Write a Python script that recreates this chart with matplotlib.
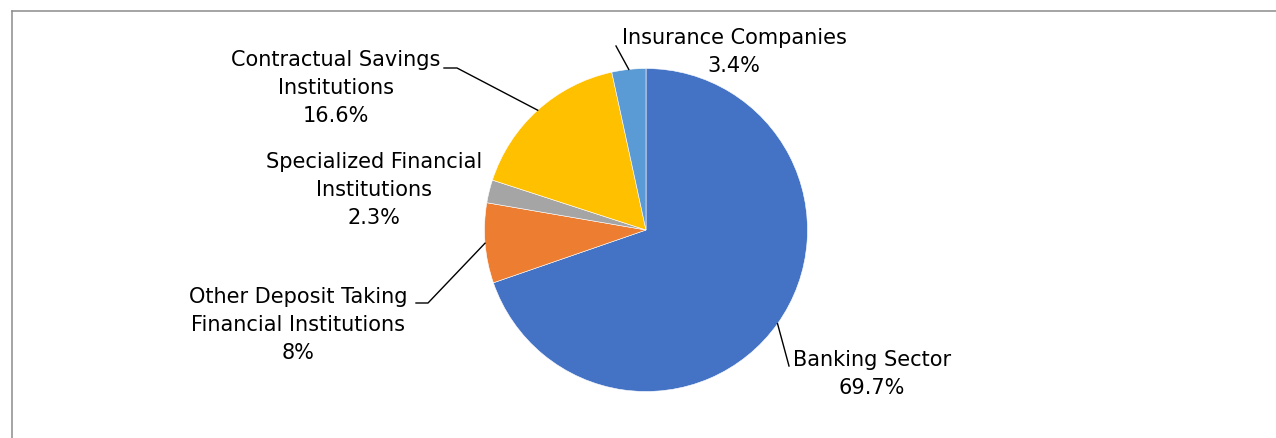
import numpy as np
import matplotlib.pyplot as plt
from matplotlib.lines import Line2D

# data
sectors = ['Banking Sector', 'Other Deposit Taking\nFinancial Institutions',
           'Specialized Financial\nInstitutions', 'Contractual Savings\nInstitutions',
           'Insurance Companies']
shares = [69.7, 8.0, 2.3, 16.6, 3.4]
share_labels = ['69.7%', '8%', '2.3%', '16.6%', '3.4%']
colors = ['#4472C4', '#ED7D31', '#A5A5A5', '#FFC000', '#5B9BD5']

W, H = 1276, 438
fig = plt.figure(figsize=(W / 100, H / 100), dpi=100)
ax = fig.add_axes([0, 0, 1, 1])

cx, cy, r = 646, H - 230, 161.5
wedges, _ = ax.pie(shares, colors=colors, startangle=90, counterclock=False,
                   center=(cx, cy), radius=r,
                   wedgeprops=dict(edgecolor='white', linewidth=0.4))
ax.set_xlim(0, W)
ax.set_ylim(0, H)
ax.set_aspect('equal')
ax.axis('off')

# outer frame (only top and left edge visible)
fig.add_artist(Line2D([12, W + 5], [H - 11, H - 11], transform=None,
                      color='#8c8c8c', lw=1.1))
fig.add_artist(Line2D([12, 12], [-5, H - 11], transform=None,
                      color='#8c8c8c', lw=1.1))

# label layout: text centre, leader line points (after wedge edge)
layout = {
    0: dict(xy=(872, H - 374), line=[(789, H - 366)]),
    1: dict(xy=(298, H - 325), line=[(428, H - 303), (416, H - 303)]),
    2: dict(xy=(374, H - 190), line=None),
    3: dict(xy=(336, H - 88), line=[(457, H - 68), (444, H - 68)]),
    4: dict(xy=(734, H - 52), line=[(616, H - 46)]),
}

for i, w in enumerate(wedges):
    text = sectors[i] + '\n' + share_labels[i]
    lay = layout[i]
    ax.text(lay['xy'][0], lay['xy'][1], text, ha='center', va='center',
            fontsize=15, linespacing=1.52, color='black', family='DejaVu Sans')
    if lay['line']:
        ang = np.deg2rad((w.theta1 + w.theta2) / 2)
        pts = [(cx + r * np.cos(ang), cy + r * np.sin(ang))] + lay['line']
        xs, ys = zip(*pts)
        ax.plot(xs, ys, color='black', lw=1.0)

fig.savefig('out.png', dpi=100)
